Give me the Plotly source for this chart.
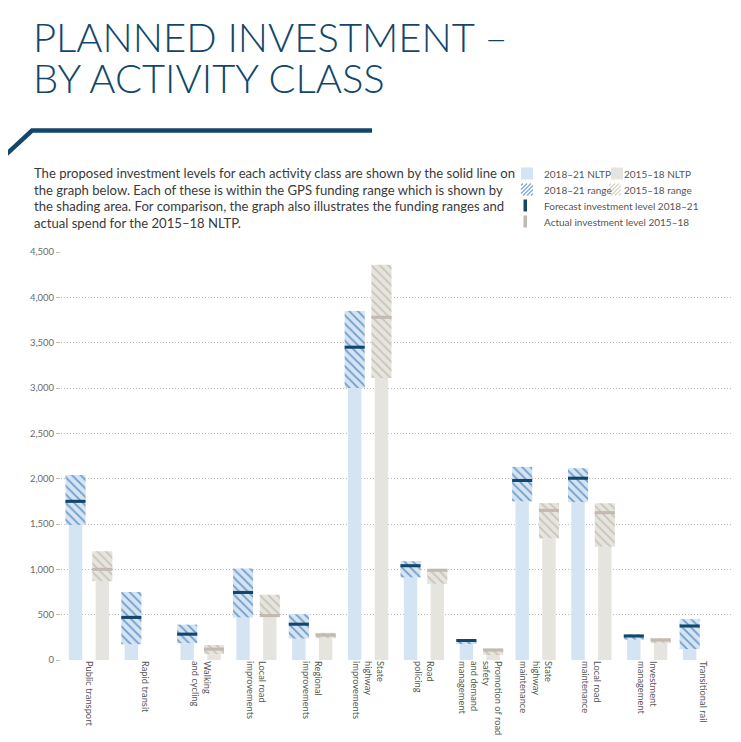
import plotly.graph_objects as go

# activity classes (tick text uses line breaks like the print version)
categories = ["Public transport", "Rapid transit", "Walking and cycling", "Local road improvements",
              "Regional improvements", "State highway improvements", "Road policing",
              "Promotion of road safety and demand management", "State highway maintenance",
              "Local road maintenance", "Investment management", "Transitional rail"]
tick_labels = ["Public transport", "Rapid transit", "Walking<br>and cycling", "Local road<br>improvements",
               "Regional<br>improvements", "State<br>highway<br>improvements", "Road<br>policing",
               "Promotion of road<br>safety<br>and demand<br>management", "State<br>highway<br>maintenance",
               "Local road<br>maintenance", "Investment<br>management", "Transitional rail"]

# 2018-21 NLTP ($m)
range_1821_low = [1490, 175, 185, 470, 235, 3000, 910, 175, 1750, 1740, 225, 120]
range_1821_high = [2040, 750, 390, 1010, 505, 3850, 1090, 225, 2130, 2115, 283, 450]
forecast_1821 = [1750, 470, 285, 745, 395, 3450, 1040, 215, 1980, 2005, 265, 375]

# 2015-18 NLTP ($m)
range_1518_low = [870, None, 65, 490, 240, 3110, 840, 55, 1340, 1250, 185, None]
range_1518_high = [1200, None, 165, 720, 300, 4360, 1000, 125, 1730, 1730, 240, None]
actual_1518 = [1000, None, 120, 490, 275, 3780, 990, 110, 1650, 1625, 221, None]

y_ticks = [0, 500, 1000, 1500, 2000, 2500, 3000, 3500, 4000, 4500]

W, H = 741, 742
# the page body has an 8px margin, so work in page pixels and shift back
OX, OY = 8, 8
L, T = 61 - OX, 252 - OY
R, B = W - (731 - OX), H - (660 - OY)
PW, PH = W - L - R, H - T - B


def px(x):
    return (x - OX - L) / PW


def py(y):
    return (H - B - (y - OY)) / PH


NAVY = "#12476b"
BLUE = "#d5e4f3"
BLUE_HATCH = "#6f9dcb"
GREY = "#e6e4de"
GREY_HATCH = "#c9c4b8"
GREY_LEVEL = "#c3b9b1"
FONT = "Lato"

LEVEL_H = 34


def span(lo, hi):
    return [None if a is None else b - a for a, b in zip(lo, hi)]


def level_base(vals):
    return [None if v is None else v - LEVEL_H / 2 for v in vals]


def level_h(vals):
    return [None if v is None else LEVEL_H for v in vals]


fig = go.Figure()

# 2018-21 bars
fig.add_trace(go.Bar(x=categories, y=range_1821_low, offset=-0.36, width=0.24,
                     marker=dict(color=BLUE, line_width=0), name="2018–21 NLTP"))
fig.add_trace(go.Bar(x=categories, y=span(range_1821_low, range_1821_high), base=range_1821_low,
                     offset=-0.42, width=0.36, name="2018–21 range",
                     marker=dict(color=BLUE, line_width=0,
                                 pattern=dict(shape="\\", fgcolor=BLUE_HATCH, bgcolor=BLUE,
                                              size=6, solidity=0.3, fillmode="replace"))))
fig.add_trace(go.Bar(x=categories, y=level_h(forecast_1821), base=level_base(forecast_1821),
                     offset=-0.42, width=0.36, marker=dict(color=NAVY, line_width=0),
                     name="Forecast investment level 2018–21"))

# 2015-18 bars
fig.add_trace(go.Bar(x=categories, y=range_1518_low, offset=0.12, width=0.24,
                     marker=dict(color=GREY, line_width=0), name="2015–18 NLTP"))
fig.add_trace(go.Bar(x=categories, y=span(range_1518_low, range_1518_high), base=range_1518_low,
                     offset=0.06, width=0.36, name="2015–18 range",
                     marker=dict(color=GREY, line_width=0,
                                 pattern=dict(shape="\\", fgcolor=GREY_HATCH, bgcolor=GREY,
                                              size=6, solidity=0.3, fillmode="replace"))))
fig.add_trace(go.Bar(x=categories, y=level_h(actual_1518), base=level_base(actual_1518),
                     offset=0.06, width=0.36, marker=dict(color=GREY_LEVEL, line_width=0),
                     name="Actual investment level 2015–18"))

annotations = []
shapes = []

# title
annotations.append(dict(x=px(31), y=py(37), xref="paper", yref="paper", xanchor="left", yanchor="middle",
                        text="PLANNED INVESTMENT –", showarrow=False,
                        font=dict(family=FONT, size=40, color=NAVY, weight=300)))
annotations.append(dict(x=px(31), y=py(78), xref="paper", yref="paper", xanchor="left", yanchor="middle",
                        text="BY ACTIVITY CLASS", showarrow=False,
                        font=dict(family=FONT, size=40, color=NAVY, weight=300)))

# decorative rule
shapes.append(dict(type="path", xref="paper", yref="paper",
                   path="M {} {} L {} {} L {} {}".format(px(-2), py(162), px(32), py(130.5), px(372), py(130.5)),
                   line=dict(color=NAVY, width=4.5)))

# intro paragraph
para = ["The proposed investment levels for each activity class are shown by the solid line on",
        "the graph below. Each of these is within the GPS funding range which is shown by",
        "the shading area. For comparison, the graph also illustrates the funding ranges and",
        "actual spend for the 2015–18 NLTP."]
for i, line in enumerate(para):
    annotations.append(dict(x=px(32), y=py(173 + i * 16.7), xref="paper", yref="paper",
                            xanchor="left", yanchor="middle", text=line, showarrow=False,
                            font=dict(family=FONT, size=13.1, color="#3a3a3a")))

# custom legend
LEG = dict(family=FONT, size=10, color="#555555")


def leg_text(x, y, t):
    annotations.append(dict(x=px(x), y=py(y), xref="paper", yref="paper", xanchor="left",
                            yanchor="middle", text=t, showarrow=False, font=LEG))


def swatch(x, y, color, w=12, h=12):
    shapes.append(dict(type="rect", xref="paper", yref="paper", x0=px(x), x1=px(x + w),
                       y0=py(y - h / 2), y1=py(y + h / 2), fillcolor=color, line_width=0))


def hatch_swatch(x, y, color, s=12):
    y0 = y - s / 2
    for c in [2, 6, 10, 14, 18, 22]:
        a = max(0, c - s)
        b = min(s, c)
        shapes.append(dict(type="line", xref="paper", yref="paper",
                           x0=px(x + a), y0=py(y0 + c - a), x1=px(x + b), y1=py(y0 + c - b),
                           line=dict(color=color, width=1.2)))


swatch(521, 173.5, BLUE)
leg_text(542, 173.5, "2018–21 NLTP")
swatch(611, 173.5, GREY)
leg_text(622, 173.5, "2015–18 NLTP")
hatch_swatch(521, 189.5, "#7fa8d4")
leg_text(542, 189.5, "2018–21 range")
hatch_swatch(609, 189.5, "#d8d4ca")
leg_text(622, 189.5, "2015–18 range")
swatch(523.5, 205.5, NAVY, w=3.5)
leg_text(542, 205.5, "Forecast investment level 2018–21")
swatch(523.5, 221.5, GREY_LEVEL, w=3.5)
leg_text(542, 221.5, "Actual investment level 2015–18")

fig.update_layout(
    width=W, height=H,
    margin=dict(l=L, r=R, t=T, b=B),
    paper_bgcolor="white", plot_bgcolor="white",
    barmode="overlay", showlegend=False,
    font=dict(family=FONT, color="#555555"),
    annotations=annotations, shapes=shapes,
)
fig.update_yaxes(range=[0, 4500], tickvals=y_ticks, tickformat=",", showgrid=True, automargin=False,
                 gridcolor="#bdbdbd", griddash="1px,2px", gridwidth=1, zeroline=False, showline=False,
                 ticks="outside", ticklen=4, tickcolor="#bdbdbd",
                 tickfont=dict(family=FONT, size=9.5, color="#6b6b6b"))
fig.update_xaxes(tickvals=categories, ticktext=tick_labels, tickangle=90, showgrid=False, automargin=False,
                 showline=False, ticks="", tickfont=dict(family=FONT, size=9.3, color="#555555"))

fig.write_html("out.html")
